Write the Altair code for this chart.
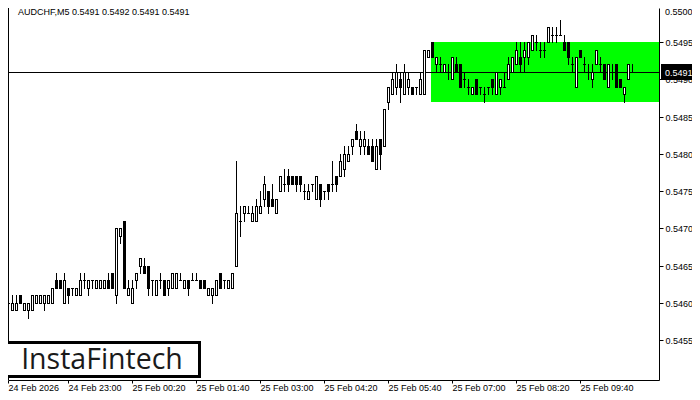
import json
import altair as alt
import pandas as pd

# ---- data ----
opens = [0.5459,0.5460,0.5459,0.5459,0.5461,0.5459,0.5459,0.5459,0.5460,0.5460,
         0.5460,0.5460,0.5460,0.5463,0.5463,0.5460,0.5462,0.5462,0.5461,0.5461,
         0.5463,0.5462,0.5463,0.5462,0.5462,0.5462,0.5463,0.5464,0.5461,0.5469,
         0.5471,0.5461,0.5460,0.5463,0.5465,0.5465,0.5465,0.5463,0.5461,0.5463,
         0.5463,0.5462,0.5462,0.5462,0.5463,0.5462,0.5463,0.5463,0.5463,0.5463,
         0.5463,0.5461,0.5461,0.5461,0.5464,0.5463,0.5462,0.5462,0.5465,0.5471,
         0.5472,0.5472,0.5471,0.5471,0.5472,0.5474,0.5475,0.5474,0.5472,0.5475,
         0.5476,0.5477,0.5477,0.5477,0.5477,0.5475,0.5474,0.5476,0.5474,0.5476,
         0.5475,0.5476,0.5476,0.5477,0.5477,0.5478,0.5479,0.5481,0.5483,0.5481,
         0.5481,0.5481,0.5481,0.5478,0.5482,0.5481,0.5487,0.5488,0.5489,0.5490,
         0.5488,0.5489,0.5489,0.5489,0.5488,0.5488,0.5493,0.5495,0.5492,0.5492,
         0.5491,0.5491,0.5490,0.5492,0.5492,0.5490,0.5489,0.5488,0.5490,0.5489,
         0.5488,0.5489,0.5490,0.5488,0.5489,0.5489,0.5490,0.5491,0.5492,0.5493,
         0.5493,0.5493,0.5494,0.5495,0.5494,0.5494,0.5495,0.5496,0.5496,0.5496,
         0.5495,0.5495,0.5492,0.5489,0.5494,0.5492,0.5491,0.5490,0.5492,0.5492,
         0.5492,0.5489,0.5491,0.5492,0.5490,0.5488,0.5490,0.5491]
highs = [0.5461,0.5461,0.5461,0.5461,0.5461,0.5460,0.5460,0.5461,0.5461,0.5461,
         0.5461,0.5461,0.5462,0.5464,0.5463,0.5464,0.5462,0.5462,0.5462,0.5464,
         0.5464,0.5463,0.5463,0.5463,0.5463,0.5463,0.5464,0.5464,0.5470,0.5470,
         0.5471,0.5463,0.5463,0.5464,0.5466,0.5466,0.5465,0.5463,0.5463,0.5464,
         0.5463,0.5463,0.5464,0.5464,0.5464,0.5463,0.5463,0.5464,0.5464,0.5463,
         0.5463,0.5462,0.5462,0.5463,0.5464,0.5463,0.5463,0.5464,0.5479,0.5473,
         0.5473,0.5473,0.5473,0.5474,0.5475,0.5477,0.5475,0.5476,0.5474,0.5477,
         0.5478,0.5478,0.5477,0.5477,0.5477,0.5476,0.5476,0.5476,0.5477,0.5476,
         0.5475,0.5476,0.5479,0.5477,0.5480,0.5481,0.5481,0.5482,0.5484,0.5483,
         0.5483,0.5482,0.5482,0.5482,0.5482,0.5486,0.5489,0.5491,0.5492,0.5491,
         0.5492,0.5491,0.5489,0.5489,0.5491,0.5494,0.5494,0.5495,0.5493,0.5493,
         0.5492,0.5492,0.5493,0.5493,0.5492,0.5491,0.5490,0.5489,0.5490,0.5489,
         0.5489,0.5489,0.5490,0.5491,0.5490,0.5491,0.5493,0.5493,0.5495,0.5495,
         0.5495,0.5495,0.5496,0.5496,0.5495,0.5495,0.5497,0.5497,0.5497,0.5498,
         0.5496,0.5495,0.5493,0.5493,0.5494,0.5493,0.5492,0.5492,0.5494,0.5493,
         0.5492,0.5492,0.5492,0.5492,0.5490,0.5489,0.5492,0.5492]
lows = [0.5459,0.5460,0.5459,0.5459,0.5460,0.5459,0.5458,0.5459,0.5460,0.5460,
        0.5459,0.5460,0.5460,0.5462,0.5462,0.5460,0.5460,0.5461,0.5461,0.5461,
        0.5462,0.5461,0.5462,0.5462,0.5462,0.5462,0.5462,0.5462,0.5460,0.5468,
        0.5462,0.5461,0.5460,0.5462,0.5464,0.5464,0.5461,0.5461,0.5461,0.5462,
        0.5461,0.5461,0.5462,0.5462,0.5463,0.5462,0.5461,0.5463,0.5463,0.5462,
        0.5462,0.5461,0.5460,0.5461,0.5462,0.5462,0.5462,0.5462,0.5465,0.5469,
        0.5471,0.5472,0.5471,0.5471,0.5472,0.5473,0.5472,0.5473,0.5472,0.5475,
        0.5475,0.5475,0.5476,0.5475,0.5475,0.5474,0.5474,0.5475,0.5474,0.5473,
        0.5474,0.5474,0.5475,0.5475,0.5477,0.5477,0.5479,0.5480,0.5482,0.5480,
        0.5480,0.5480,0.5479,0.5478,0.5478,0.5481,0.5486,0.5488,0.5488,0.5487,
        0.5488,0.5488,0.5488,0.5488,0.5488,0.5488,0.5493,0.5493,0.5491,0.5491,
        0.5491,0.5490,0.5490,0.5491,0.5489,0.5489,0.5488,0.5488,0.5488,0.5488,
        0.5487,0.5488,0.5488,0.5488,0.5488,0.5489,0.5490,0.5491,0.5492,0.5491,
        0.5491,0.5492,0.5494,0.5494,0.5493,0.5493,0.5495,0.5495,0.5495,0.5496,
        0.5494,0.5492,0.5491,0.5489,0.5493,0.5491,0.5490,0.5489,0.5492,0.5491,
        0.5490,0.5489,0.5490,0.5489,0.5489,0.5487,0.5490,0.5491]
closes = [0.5460,0.5460,0.5460,0.5460,0.5460,0.5460,0.5460,0.5461,0.5461,0.5461,
          0.5461,0.5461,0.5462,0.5462,0.5462,0.5463,0.5461,0.5462,0.5462,0.5463,
          0.5463,0.5463,0.5463,0.5463,0.5463,0.5463,0.5462,0.5462,0.5470,0.5470,
          0.5462,0.5462,0.5462,0.5464,0.5466,0.5464,0.5462,0.5463,0.5463,0.5463,
          0.5461,0.5463,0.5464,0.5464,0.5463,0.5463,0.5462,0.5463,0.5463,0.5462,
          0.5462,0.5462,0.5462,0.5463,0.5462,0.5463,0.5463,0.5464,0.5472,0.5471,
          0.5473,0.5472,0.5472,0.5473,0.5473,0.5476,0.5473,0.5473,0.5474,0.5477,
          0.5476,0.5476,0.5476,0.5476,0.5476,0.5475,0.5475,0.5476,0.5477,0.5474,
          0.5475,0.5475,0.5476,0.5476,0.5479,0.5480,0.5480,0.5482,0.5482,0.5482,
          0.5482,0.5480,0.5479,0.5481,0.5480,0.5486,0.5489,0.5490,0.5491,0.5489,
          0.5491,0.5490,0.5488,0.5489,0.5490,0.5494,0.5494,0.5493,0.5493,0.5492,
          0.5492,0.5491,0.5493,0.5491,0.5489,0.5490,0.5489,0.5489,0.5488,0.5489,
          0.5488,0.5489,0.5489,0.5491,0.5490,0.5489,0.5492,0.5493,0.5494,0.5492,
          0.5494,0.5495,0.5496,0.5495,0.5494,0.5494,0.5497,0.5496,0.5496,0.5496,
          0.5494,0.5493,0.5492,0.5493,0.5493,0.5492,0.5491,0.5491,0.5494,0.5492,
          0.5490,0.5492,0.5491,0.5489,0.5489,0.5489,0.5492,0.5491]

x_tick_bars = [0, 16, 32, 48, 64, 80, 96, 112, 128, 144]
x_tick_labels = ["24 Feb 2026", "24 Feb 23:00", "25 Feb 00:20", "25 Feb 01:40",
                 "25 Feb 03:00", "25 Feb 04:20", "25 Feb 05:40", "25 Feb 07:00",
                 "25 Feb 08:20", "25 Feb 09:40"]
y_tick_values = [0.5455, 0.5460, 0.5465, 0.5470, 0.5475, 0.5480, 0.5485,
                 0.5490, 0.5495, 0.5500]
title_text = "AUDCHF,M5  0.5491 0.5492 0.5491 0.5491"
last_price = 0.5491
rect_top = 0.5495
rect_bottom = 0.5487
rect_start_bar = 106.75
rect_end_bar = 163.75
logo_text = "InstaFintech"

# ---- layout ----
W, H = 651, 372
px_per_unit = 74500.0
y_top = 0.5500 - 3.2 / px_per_unit
y_bot = y_top - H / px_per_unit
FONT = "Liberation Sans"
first_visible_bar = 1

df = pd.DataFrame({"i": list(range(len(opens))), "o": opens, "h": highs,
                   "l": lows, "c": closes})
df["top"] = df[["o", "c"]].max(axis=1)
df["bot"] = df[["o", "c"]].min(axis=1)
bull = df[df["c"] > df["o"]]

xs = alt.Scale(domain=[first_visible_bar, rect_end_bar], nice=False, zero=False)
ys = alt.Scale(domain=[y_bot, y_top], nice=False, zero=False, round=True)

axis_x_values = [max(v, first_visible_bar) for v in x_tick_bars]
label_expr = json.dumps(x_tick_labels) + "[round(datum.value/16)]"
x_axis = alt.Axis(values=axis_x_values, labelExpr=label_expr, title=None, grid=False,
                  tickSize=3, tickColor="black", domainColor="black",
                  labelAlign="left", labelBaseline="top", labelPadding=0,
                  labelFlush=False, labelOverlap=False, labelFont=FONT,
                  labelFontSize=9, labelColor="black")
y_axis = alt.Axis(orient="right", values=y_tick_values[:-1], format=".4f", title=None,
                  grid=False, tickSize=4, tickColor="black", domainColor="black",
                  labelPadding=2, labelFont=FONT, labelFontSize=9,
                  labelColor="black", labelOverlap=False)


def X(field):
    return alt.X(field, type="quantitative", scale=xs, axis=x_axis)


def Y(field):
    return alt.Y(field, type="quantitative", scale=ys, axis=y_axis)


rect_df = pd.DataFrame({"x1": [rect_start_bar], "x2": [rect_end_bar],
                        "y1": [rect_top], "y2": [rect_bottom]})
green = alt.Chart(rect_df).mark_rect(color="#00ff00").encode(
    x=X("x1"), x2="x2:Q", y=Y("y1"), y2="y2:Q")

lp_df = pd.DataFrame({"p": [last_price], "t": [f"{last_price:.4f}"]})
price_line = alt.Chart(lp_df).mark_rule(color="black", strokeWidth=1, yOffset=0.5).encode(
    y=Y("p"), x=alt.value(0), x2=alt.value(W))

wicks = alt.Chart(df).mark_rule(color="black", strokeWidth=1, xOffset=0.5,
                                y2Offset=1, clip=True).encode(
    x=X("i"), y=Y("h"), y2="l:Q")

bodies = alt.Chart(df).mark_rect(color="black", xOffset=-1, x2Offset=2,
                                 y2Offset=1, clip=True).encode(
    x=X("i"), x2="i:Q", y=Y("top"), y2="bot:Q")

inner = alt.Chart(bull).mark_rect(color="white", xOffset=0, x2Offset=1,
                                  yOffset=1, clip=True).encode(
    x=X("i"), x2="i:Q", y=Y("top"), y2="bot:Q")

left_line = alt.Chart(lp_df).mark_rule(color="black", strokeWidth=1).encode(
    x=alt.value(0.5), y=alt.value(0), y2=alt.value(H))

title = alt.Chart(pd.DataFrame({"t": [title_text]})).mark_text(
    align="left", baseline="top", font=FONT, fontSize=9, color="black").encode(
    text="t:N", x=alt.value(10), y=alt.value(0))

# top price label, which sits at the very top edge of the page
top_lbl = alt.Chart(pd.DataFrame({"t": [f"{y_tick_values[-1]:.4f}"]})).mark_text(
    align="left", baseline="top", font=FONT, fontSize=9, color="black").encode(
    text="t:N", x=alt.value(W + 6), y=alt.value(0))

price_box = alt.Chart(lp_df).mark_rect(color="black", yOffset=-8, y2Offset=8).encode(
    y=Y("p"), y2="p:Q", x=alt.value(W + 2), x2=alt.value(W + 38))
price_txt = alt.Chart(lp_df).mark_text(
    align="left", baseline="middle", font=FONT, fontSize=9, color="white", yOffset=0.5).encode(
    y=Y("p"), x=alt.value(W + 6), text="t:N")

logo_box = alt.Chart(pd.DataFrame({"t": [logo_text]})).mark_rect(
    fill="white", stroke="black", strokeWidth=3).encode(
    x=alt.value(-4.5), x2=alt.value(191.5), y=alt.value(334.5), y2=alt.value(368.5))
logo_txt = alt.Chart(pd.DataFrame({"t": [logo_text]})).mark_text(
    align="center", baseline="middle", font="Open Sans", fontSize=28.5,
    color="#1a1a1a").encode(text="t:N", x=alt.value(94), y=alt.value(352))

chart = alt.layer(green, price_line, wicks, bodies, inner, left_line, title, top_lbl,
                  price_box, price_txt, logo_box, logo_txt).properties(
    width=W, height=H,
    autosize=alt.AutoSizeParams(type="none"),
    padding={"left": 0, "top": 0, "right": 33, "bottom": 12},
    background="white",
).configure_view(stroke=None)

chart.save("out.html", embed_options={"renderer": "svg", "actions": False})
